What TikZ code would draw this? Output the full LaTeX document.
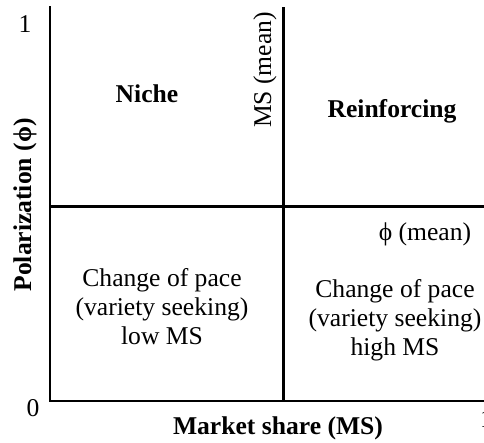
\documentclass[tikz,border=0pt]{standalone}
\usepackage{fontspec}
\setmainfont{Liberation Serif}
\begin{document}
\begin{tikzpicture}[x=1pt,y=-1pt,
  lbl/.style={font=\fontsize{25.6}{29}\selectfont, anchor=base, inner sep=0pt},
  blbl/.style={font=\fontsize{25.6}{29}\selectfont\bfseries, anchor=base, inner sep=0pt},
  axisline/.style={line width=2pt, black},
  meanline/.style={line width=3pt, black}]
\useasboundingbox (0,0) rectangle (484,442);
% coordinates
\coordinate (origin) at (50,401);
\coordinate (ytop) at (50,7);
\coordinate (xend) at (486,401);
\coordinate (hmL) at (50,206);
\coordinate (hmR) at (486,206);
\coordinate (vmT) at (283,7);
\coordinate (vmB) at (283,401);
% lines
\draw[meanline] (hmL) -- (hmR);
\draw[meanline] (vmT) -- (vmB);
\draw[axisline, line cap=rect] (ytop) -- (origin) -- (xend);
% tick labels
\node[lbl] (one) at (25,32) {1};
\node[lbl] (zero) at (33,416) {0};
\node[lbl, anchor=base west] (onex) at (480,427) {1};
% axis titles
\node[blbl] (xtitle) at (278,434) {Market share (MS)};
\node[blbl, rotate=90] (ytitle) at (31,205) {Polarization (ϕ)};
% mean labels
\node[lbl, rotate=90] (msmean) at (271,70) {MS (mean)};
\node[lbl] (phimean) at (425,240) {ϕ (mean)};
% quadrant labels
\node[blbl] (niche) at (147,102) {Niche};
\node[blbl] (reinf) at (392,117) {Reinforcing};
\node[lbl, align=center, anchor=north] (lowms) at (162,268) {Change of pace\\(variety seeking)\\low MS};
\node[lbl, align=center, anchor=north] (highms) at (395,279) {Change of pace\\(variety seeking)\\high MS};
\end{tikzpicture}
\end{document}
